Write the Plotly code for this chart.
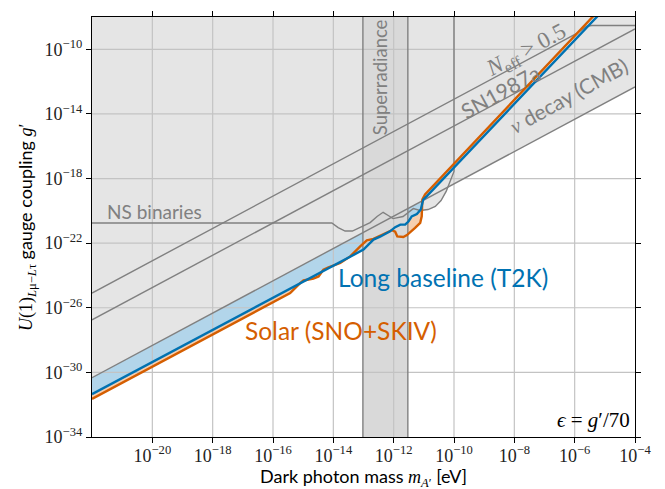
import numpy as np
import plotly.graph_objects as go

# ---- axis ranges (log10 units) ----
X_RANGE = [-22, -4]
Y_RANGE = [-34, -8]
X_TICKS = [-20, -18, -16, -14, -12, -10, -8, -6, -4]
Y_TICKS = [-34, -30, -26, -22, -18, -14, -10]
GRID_X = [-20, -18, -16, -14, -12, -10, -8, -6]
GRID_Y = [-30, -26, -22, -18, -14, -10]

# ---- data (log10 of mass [eV] and of coupling g') ----
blue_logm = [-22.0, -13.0, -12.67, -12.45, -12.12, -11.95, -11.78, -11.62, -11.51,
             -11.40, -11.23, -11.10, -11.02, -10.90, -5.0]
blue_logg = [-31.35, -22.40, -21.78, -21.60, -21.27, -21.01, -20.85, -20.85, -20.66,
             -20.34, -20.20, -19.92, -19.30, -19.09, -7.47]

orange_logm = [-22.0, -15.87, -15.43, -15.10, -14.99, -14.66, -14.49, -14.33, -14.16,
               -13.77, -13.44, -13.11, -12.89, -12.67, -12.34, -12.06, -11.95, -11.88,
               -11.68, -11.56, -11.29, -11.12, -11.07, -11.05, -10.96, -5.0]
orange_logg = [-31.64, -25.48, -25.09, -24.47, -24.31, -24.19, -24.06, -23.65, -23.50,
               -23.23, -22.82, -22.20, -21.83, -21.74, -21.47, -21.20, -21.29, -21.58,
               -21.62, -21.50, -21.06, -20.75, -20.34, -19.30, -18.99, -7.19]

nudecay_logm = [-22.0, -4.0]
nudecay_logg = [-30.33, -12.33]

sn1987a_logm = [-22.0, -4.0]
sn1987a_logg = [-26.75, -8.74]

neff_logm = [-22.0, -5.93, -5.60, -5.43, -4.0]
neff_logg = [-25.09, -9.02, -8.57, -8.53, -8.53]

ns_logm = [-22.0, -14.05, -13.84, -13.61, -13.37, -13.11, -12.78, -12.55, -12.35, -12.18,
           -12.02, -11.69, -11.35, -11.12, -10.86, -10.62, -10.43, -10.26, -10.13, -10.0, -10.0]
ns_logg = [-20.75, -20.75, -21.04, -21.25, -21.25, -21.04, -20.73, -20.35, -20.09, -20.29,
           -20.48, -20.35, -19.86, -19.98, -19.92, -19.73, -19.36, -18.80, -18.18, -17.56, -8.0]

superrad_logm = [-13.02, -11.53]

# ---- styles ----
BLUE = "#0072B2"
ORANGE = "#D55E00"
BLUE_FILL = "#b2d5ea"
ORANGE_FILL = "#f6cfb0"
GREY_FILL = "#e5e5e5"
BAND_FILL = "#d9d9d9"
GREY_LINE = "#808080"
GRID = "#c3c3c3"
SANS = "Lato"
SERIF = "Liberation Serif"


def P(v):
    return [None if a is None else 10.0 ** a for a in v]


bottom = Y_RANGE[0] - 1
top = Y_RANGE[1] + 1

fig = go.Figure()

# excluded (grey) region above the nu-decay line
fig.add_trace(go.Scatter(
    x=P(nudecay_logm + nudecay_logm[::-1]),
    y=P(nudecay_logg + [top, top]),
    fill="toself", fillcolor=GREY_FILL, line=dict(width=0), mode="lines",
    hoverinfo="skip", showlegend=False))
# excluded region above NS-binaries curve
fig.add_trace(go.Scatter(
    x=P(ns_logm + [ns_logm[-1], ns_logm[0]]),
    y=P(ns_logg + [top, top]),
    fill="toself", fillcolor=GREY_FILL, line=dict(width=0), mode="lines",
    hoverinfo="skip", showlegend=False))

# orange fill: where solar is below T2K
om = np.array(orange_logm)
og = np.array(orange_logg)
blue_at_o = np.interp(om, blue_logm, blue_logg)
o_upper = np.maximum(og, blue_at_o)
fig.add_trace(go.Scatter(
    x=P(list(om) + list(om[::-1])),
    y=P(list(og) + list(o_upper[::-1])),
    fill="toself", fillcolor=ORANGE_FILL, line=dict(width=0), mode="lines",
    hoverinfo="skip", showlegend=False))

# blue fill: between T2K curve and nu-decay line
bm = np.array(blue_logm)
bg = np.array(blue_logg)
nu_at_b = np.interp(bm, nudecay_logm, nudecay_logg)
b_upper = np.maximum(bg, nu_at_b)
fig.add_trace(go.Scatter(
    x=P(list(bm) + list(bm[::-1])),
    y=P(list(bg) + list(b_upper[::-1])),
    fill="toself", fillcolor=BLUE_FILL, line=dict(width=0), mode="lines",
    hoverinfo="skip", showlegend=False))

# superradiance band
lo, hi = superrad_logm
fig.add_trace(go.Scatter(
    x=P([lo, hi, hi, lo]), y=P([bottom, bottom, top, top]),
    fill="toself", fillcolor=BAND_FILL, line=dict(width=0), mode="lines",
    hoverinfo="skip", showlegend=False))

# grid lines (drawn above the fills)
gx, gy = [], []
for v in GRID_X:
    gx += [v, v, None]
    gy += [bottom, top, None]
for v in GRID_Y:
    gx += [X_RANGE[0] - 1, X_RANGE[1] + 1, None]
    gy += [v, v, None]
fig.add_trace(go.Scatter(x=P(gx), y=P(gy), mode="lines",
                         line=dict(color=GRID, width=1.2),
                         hoverinfo="skip", showlegend=False))

# grey constraint lines
for xm, yg in [(nudecay_logm, nudecay_logg), (sn1987a_logm, sn1987a_logg),
               (neff_logm, neff_logg), (ns_logm, ns_logg)]:
    fig.add_trace(go.Scatter(x=P(xm), y=P(yg), mode="lines",
                             line=dict(color=GREY_LINE, width=1.4),
                             hoverinfo="skip", showlegend=False))
fig.add_trace(go.Scatter(x=P([lo, lo, None, hi, hi]),
                         y=P([bottom, top, None, bottom, top]), mode="lines",
                         line=dict(color=GREY_LINE, width=1.4),
                         hoverinfo="skip", showlegend=False))

# sensitivity curves
fig.add_trace(go.Scatter(x=P(orange_logm), y=P(orange_logg), mode="lines",
                         line=dict(color=ORANGE, width=2.4), showlegend=False))
fig.add_trace(go.Scatter(x=P(blue_logm), y=P(blue_logg), mode="lines",
                         line=dict(color=BLUE, width=2.4), showlegend=False))


def sup(v):
    return "10<sup>\u2212%d</sup>" % abs(v)


axis_common = dict(type="log", showgrid=False, zeroline=False, showline=True,
                   linecolor="black", linewidth=1.2, mirror="ticks",
                   ticks="outside", ticklen=5, tickwidth=1.1, tickcolor="black",
                   tickfont=dict(family=SERIF, size=18, color="#222"))
fig.update_xaxes(range=X_RANGE, tickvals=P(X_TICKS), ticktext=[sup(v) for v in X_TICKS],
                 ticklabelstandoff=-3, **axis_common)
fig.update_yaxes(range=Y_RANGE, tickvals=P(Y_TICKS), ticktext=[sup(v) for v in Y_TICKS],
                 **axis_common)

ann = []
ann.append(dict(x=-7.59, y=-10.12, text="<i>N</i><sub>eff</sub> > 0.5",
                font=dict(family=SERIF, size=23, color=GREY_LINE), textangle=-28))
ann.append(dict(x=-8.47, y=-12.62, text="SN1987a",
                font=dict(family=SANS, size=21, color=GREY_LINE), textangle=-29))
ann.append(dict(x=-6.22, y=-12.88,
                text='<span style="font-family:%s"><i>\u03bd</i></span> decay (CMB)' % SERIF,
                font=dict(family=SANS, size=21, color=GREY_LINE), textangle=-29))
ann.append(dict(x=-12.45, y=-11.72, text="Superradiance",
                font=dict(family=SANS, size=18.5, color=GREY_LINE), textangle=-90))
ann.append(dict(x=-19.94, y=-20.01, text="NS binaries",
                font=dict(family=SANS, size=19, color=GREY_LINE)))
ann.append(dict(x=-10.36, y=-24.14, text="Long baseline (T2K)",
                font=dict(family=SANS, size=24.5, color=BLUE)))
ann.append(dict(x=-13.74, y=-27.43, text="Solar (SNO+SKIV)",
                font=dict(family=SANS, size=24.5, color=ORANGE)))
ann.append(dict(x=-4.10, y=-32.96, xanchor="right",
                text="<i>\u03f5</i> = <i>g</i>\u2032/70",
                font=dict(family=SERIF, size=21, color="black")))
for a in ann:
    a.setdefault("xanchor", "center")
    a.update(xref="x", yref="y", showarrow=False, yanchor="middle")

ann.append(dict(xref="paper", yref="paper", x=0.5, y=0, yshift=-40,
                xanchor="center", yanchor="middle", showarrow=False,
                text='Dark photon mass <span style="font-family:%s"><i>m</i><sub><i>A</i>\u2032</sub></span> [eV]' % SERIF,
                font=dict(family=SANS, size=18, color="black")))
ann.append(dict(xref="paper", yref="paper", x=0, y=0.5, xshift=-66,
                xanchor="center", yanchor="middle", showarrow=False, textangle=-90,
                text='<span style="font-family:%s"><i>U</i>(1)<sub><i>L</i>\u03bc\u2212<i>L</i>\u03c4</sub></span> gauge coupling <span style="font-family:%s"><i>g</i>\u2032</span>' % (SERIF, SERIF),
                font=dict(family=SANS, size=18, color="black")))

fig.update_layout(width=665, height=489, margin=dict(l=92, r=30, t=17, b=52),
                  paper_bgcolor="white", plot_bgcolor="white",
                  annotations=ann, showlegend=False)

fig.write_html("out.html")
